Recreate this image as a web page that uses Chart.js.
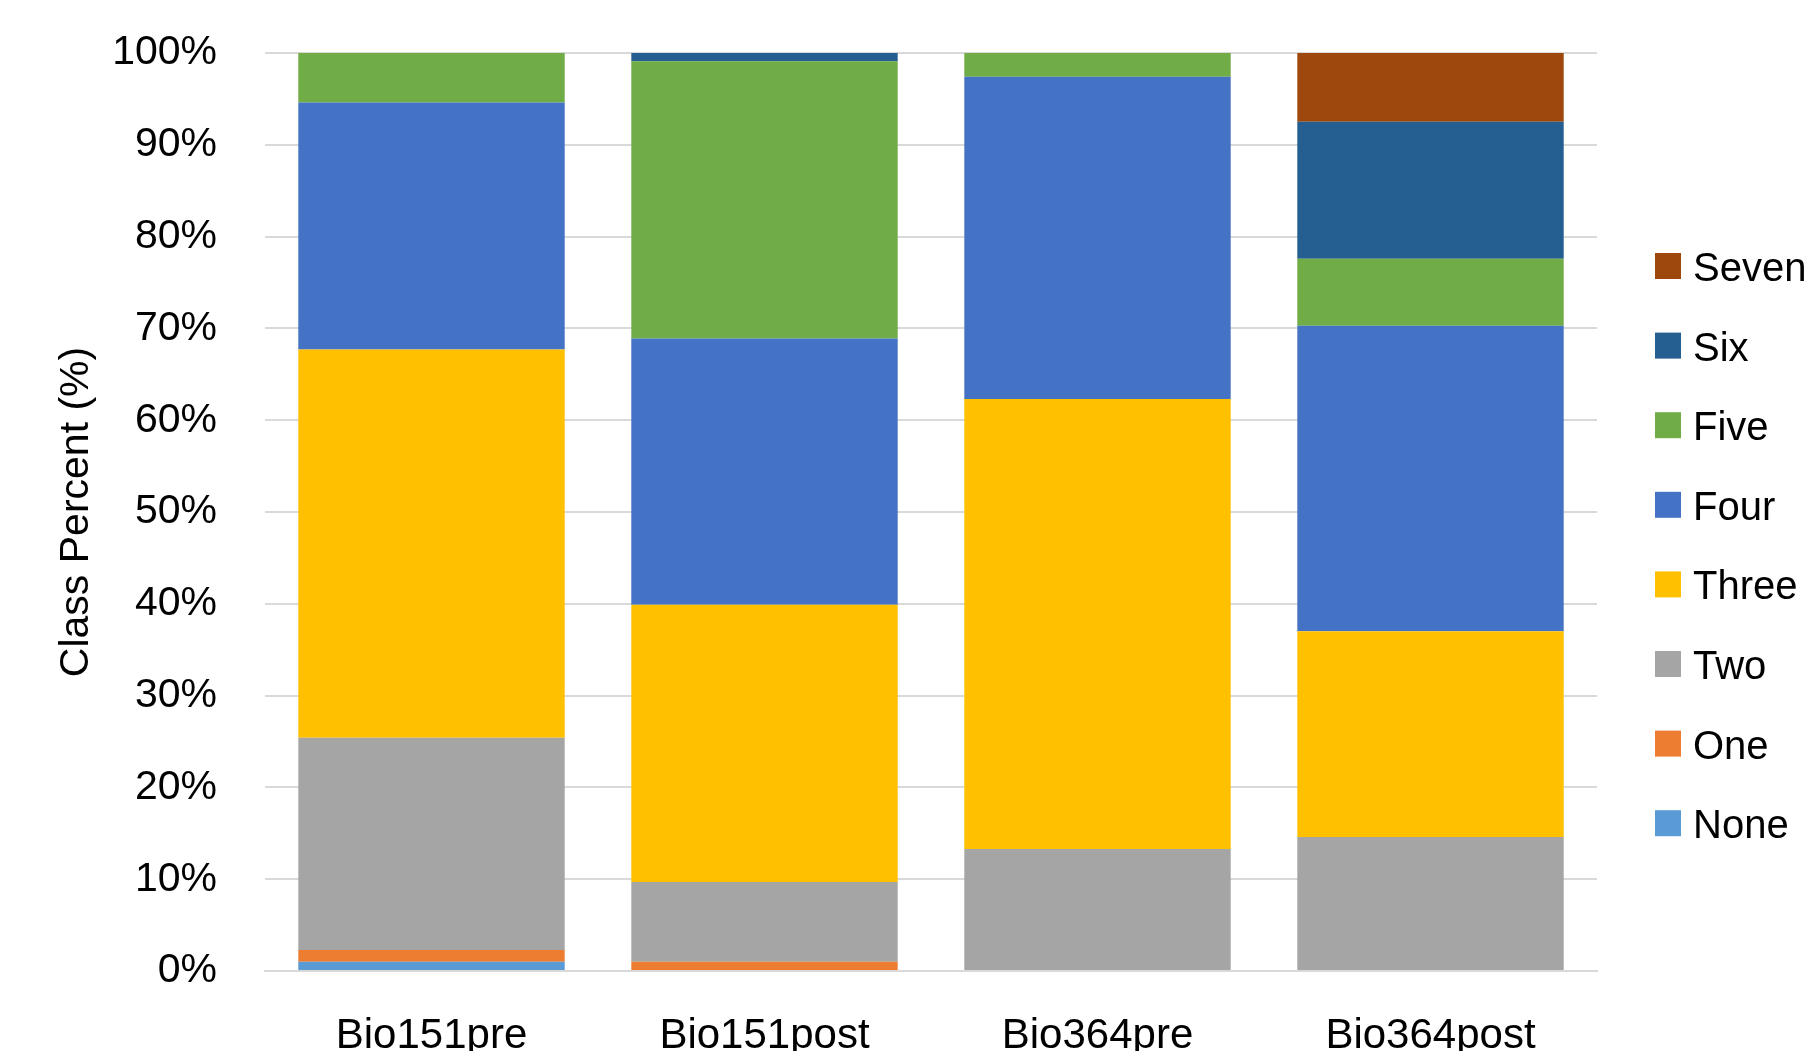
<!DOCTYPE html>
<html>
<head>
<meta charset="utf-8">
<script src="https://cdn.jsdelivr.net/npm/chart.js@4"></script>
<style>
  html, body { margin: 0; padding: 0; background: #fff; }
  #wrap { width: 1811px; height: 1051px; position: relative; }
</style>
</head>
<body>
<div id="wrap"><canvas id="c" width="1811" height="1051"></canvas></div>
<script>
const categories = ['Bio151pre', 'Bio151post', 'Bio364pre', 'Bio364post'];
const seriesNames = ['None', 'One', 'Two', 'Three', 'Four', 'Five', 'Six', 'Seven'];
const noneVals  = [1.0, 0.0, 0.0, 0.0];
const oneVals   = [1.3, 1.0, 0.0, 0.0];
const twoVals   = [23.1, 8.7, 13.3, 14.6];
const threeVals = [42.3, 30.2, 49.0, 22.4];
const fourVals  = [26.9, 29.0, 35.1, 33.3];
const fiveVals  = [5.4, 30.2, 2.6, 7.3];
const sixVals   = [0.0, 0.9, 0.0, 14.9];
const sevenVals = [0.0, 0.0, 0.0, 7.5];
const yTicks = [0, 10, 20, 30, 40, 50, 60, 70, 80, 90, 100];
const colors = ['#5B9BD5', '#ED7D31', '#A5A5A5', '#FFC000', '#4472C4', '#70AD47', '#255E91', '#9E480E'];

const seriesValues = [noneVals, oneVals, twoVals, threeVals, fourVals, fiveVals, sixVals, sevenVals];
const FONT = "'Liberation Sans', Arial, sans-serif";

const legendPlugin = {
  id: 'customLegend',
  afterDraw(chart) {
    const ctx = chart.ctx;
    const ds = chart.data.datasets;
    ctx.save();
    ctx.font = '40px ' + FONT;
    ctx.textBaseline = 'middle';
    ctx.textAlign = 'left';
    const n = ds.length;
    for (let k = 0; k < n; k++) {
      const d = ds[n - 1 - k];
      const cy = 266 + k * 79.6;
      ctx.fillStyle = d.backgroundColor;
      ctx.fillRect(1655, cy - 13, 26, 26);
      ctx.fillStyle = '#000';
      ctx.fillText(d.label, 1693, cy + 4);
    }
    ctx.restore();
  }
};

new Chart(document.getElementById('c'), {
  type: 'bar',
  data: {
    labels: categories,
    datasets: seriesNames.map((name, i) => ({
      label: name,
      data: seriesValues[i],
      backgroundColor: colors[i],
      borderWidth: 0,
      barPercentage: 0.8,
      categoryPercentage: 1.0
    }))
  },
  options: {
    responsive: false,
    animation: false,
    devicePixelRatio: 1,
    layout: { padding: { top: 53, right: 214, bottom: 0, left: 0 } },
    plugins: {
      legend: { display: false },
      tooltip: { enabled: false }
    },
    scales: {
      x: {
        stacked: true,
        grid: { display: false, drawTicks: false },
        border: { display: true, color: '#D9D9D9', width: 2 },
        ticks: { color: '#000', font: { family: FONT, size: 42 }, padding: 40, maxRotation: 0 },
        afterFit(scale) { scale.height = 80; scale.paddingLeft = 0; scale.paddingRight = 0; }
      },
      y: {
        stacked: true,
        min: 0,
        max: 100,
        afterBuildTicks(scale) { scale.ticks = yTicks.map(v => ({ value: v })); },
        grid: { color: '#D9D9D9', lineWidth: 2, drawTicks: false },
        border: { display: false },
        ticks: {
          color: '#000',
          font: { family: FONT, size: 41 },
          padding: 48,
          callback: v => v + '%'
        },
        title: {
          display: true,
          text: 'Class Percent (%)',
          color: '#000',
          font: { family: FONT, size: 41 },
          padding: { top: 52, bottom: 0 }
        },
        afterFit(scale) { scale.width = 265; scale.paddingTop = 0; scale.paddingBottom = 0; }
      }
    }
  },
  plugins: [legendPlugin]
});
</script>
</body>
</html>
